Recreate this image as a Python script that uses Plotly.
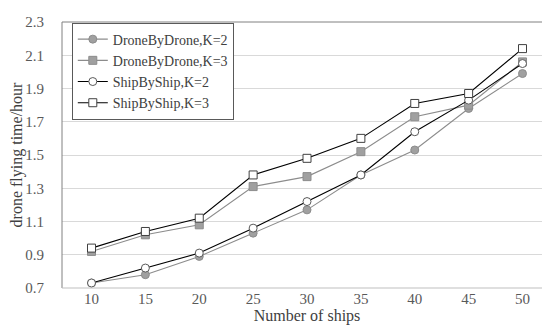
import plotly.graph_objects as go

ships = ["10", "15", "20", "25", "30", "35", "40", "45", "50"]
drone_k2 = [0.73, 0.78, 0.89, 1.03, 1.17, 1.38, 1.53, 1.78, 1.99]
drone_k3 = [0.92, 1.02, 1.08, 1.31, 1.37, 1.52, 1.73, 1.80, 2.06]
ship_k2 = [0.73, 0.82, 0.91, 1.06, 1.22, 1.38, 1.64, 1.83, 2.05]
ship_k3 = [0.94, 1.04, 1.12, 1.38, 1.48, 1.60, 1.81, 1.87, 2.14]
y_ticks = [0.7, 0.9, 1.1, 1.3, 1.5, 1.7, 1.9, 2.1, 2.3]

FONT = "Liberation Serif"
GRAY_LINE = "#8c8c8c"
GRAY_FILL = "#a0a0a0"

fig = go.Figure()
series = [
    ("DroneByDrone,K=2", drone_k2, GRAY_LINE, "circle", GRAY_FILL, "#8c8c8c"),
    ("DroneByDrone,K=3", drone_k3, GRAY_LINE, "square", GRAY_FILL, "#8c8c8c"),
    ("ShipByShip,K=2", ship_k2, "#000000", "circle", "#ffffff", "#595959"),
    ("ShipByShip,K=3", ship_k3, "#000000", "square", "#ffffff", "#404040"),
]
for name, vals, lc, sym, fc, mc in series:
    fig.add_trace(go.Scatter(
        x=ships, y=vals, name=name, mode="lines+markers",
        line=dict(color=lc, width=1.1),
        marker=dict(symbol=sym, size=8, color=fc, line=dict(color=mc, width=1)),
    ))

fig.update_layout(
    width=550, height=327,
    margin=dict(l=54, r=6, t=14, b=47),
    paper_bgcolor="white", plot_bgcolor="white",
    font=dict(family=FONT, size=14, color="#404040"),
    showlegend=True,
    legend=dict(
        x=0.02, y=0.998, xanchor="left", yanchor="top",
        bgcolor="white", bordercolor="#595959", borderwidth=1,
        font=dict(family=FONT, size=14, color="#404040"),
        tracegroupgap=0, itemwidth=30,
    ),
    xaxis=dict(
        type="category", showgrid=False, ticks="", showline=False,
        title=dict(text="Number of ships", font=dict(family=FONT, size=16, color="#404040"), standoff=2),
        tickfont=dict(family=FONT, size=15, color="#595959"),
    ),
    yaxis=dict(
        range=[0.7, 2.3], tickvals=y_ticks, ticktext=[f"{v:.1f}" for v in y_ticks],
        showgrid=True, gridcolor="#d9d9d9", gridwidth=1, zeroline=False, showline=False,
        ticks="outside", ticklen=14, tickcolor="rgba(0,0,0,0)",
        title=dict(text="drone flying time/hour", font=dict(family=FONT, size=16, color="#404040"), standoff=0),
        tickfont=dict(family=FONT, size=15, color="#595959"),
    ),
)
# plot-area frame
fig.add_shape(type="line", xref="paper", yref="paper", x0=0, y0=0, x1=0, y1=1,
              line=dict(color="#808080", width=1), layer="above")
fig.add_shape(type="line", xref="paper", yref="paper", x0=0, y0=1, x1=1, y1=1,
              line=dict(color="#808080", width=1), layer="above")
fig.add_shape(type="line", xref="paper", yref="paper", x0=1, y0=0, x1=1, y1=1,
              line=dict(color="#a6a6a6", width=2), layer="above")
fig.add_shape(type="line", xref="paper", yref="paper", x0=0, y0=0, x1=1, y1=0,
              line=dict(color="#bfbfbf", width=1), layer="above")

fig.write_html("out.html")
